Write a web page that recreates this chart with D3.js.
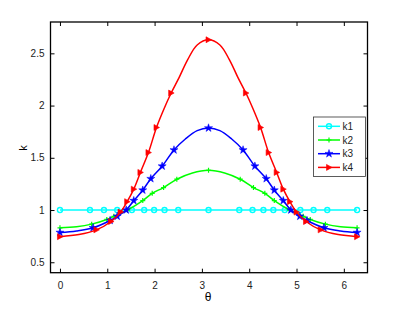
<!DOCTYPE html>
<html><head><meta charset="utf-8">
<script src="https://cdn.jsdelivr.net/npm/d3@7"></script>
<style>body{margin:0;background:#fff}svg{display:block}text{font-family:"Liberation Sans",Arial,sans-serif}</style>
</head><body><svg id="c" width="399" height="310"></svg>
<script>
// ---- data ----
const xTicks = [0,1,2,3,4,5,6];
const yTicks = [0.5,1,1.5,2,2.5];
const seriesNames = ["k1","k2","k3","k4"];

const k1Theta = [0,0.634,0.93,1.21,1.52,1.78,1.99,2.21,2.5,3.14,3.79,4.07,4.30,4.51,4.75,5.08,5.36,5.65,6.28];
const k1Vals  = [1,1,1,1,1,1,1,1,1,1,1,1,1,1,1,1,1,1,1];
const k1Mark  = [1,1,1,1,1,1,1,1,1,1,1,1,1,1,1,1,1,1,1];

const k2Theta = [0,0.35,0.67,0.99,1.14,1.43,1.75,1.95,2.19,2.47,2.80,3.14,3.48,3.81,4.09,4.33,4.53,4.85,5.14,5.29,5.61,5.93,6.28];
const k2Vals  = [0.83,0.84,0.865,0.91,0.94,1.00,1.09,1.16,1.215,1.295,1.355,1.38,1.355,1.295,1.215,1.16,1.09,1.00,0.94,0.91,0.865,0.84,0.83];
const k2Mark  = [1,0,1,1,1,1,1,1,1,1,0,1,0,1,1,1,1,1,1,1,1,0,1];

const k3Theta = [0,0.35,0.70,1.06,1.21,1.40,1.56,1.75,1.92,2.16,2.41,2.65,2.90,3.14,3.38,3.63,3.87,4.12,4.36,4.53,4.72,4.88,5.07,5.22,5.58,5.93,6.28];
const k3Vals  = [0.785,0.80,0.83,0.90,0.94,1.00,1.09,1.19,1.30,1.42,1.575,1.68,1.76,1.785,1.76,1.68,1.575,1.42,1.30,1.19,1.09,1.00,0.94,0.90,0.83,0.80,0.785];
const k3Mark  = [1,0,1,1,1,1,1,1,1,1,1,0,0,1,0,0,1,1,1,1,1,1,1,1,1,0,1];

const k4Theta = [0,0.40,0.77,1.08,1.28,1.42,1.56,1.70,1.87,2.04,2.20,2.35,2.52,2.70,2.90,3.14,3.38,3.58,3.76,3.93,4.08,4.24,4.41,4.58,4.72,4.86,5.00,5.20,5.51,5.88,6.28];
const k4Vals  = [0.745,0.765,0.81,0.89,0.98,1.08,1.20,1.36,1.55,1.79,1.97,2.12,2.27,2.44,2.58,2.63,2.58,2.44,2.27,2.12,1.97,1.79,1.55,1.36,1.20,1.08,0.98,0.89,0.81,0.765,0.745];
const k4Mark  = [1,0,1,1,1,1,1,1,1,1,0,1,0,0,0,1,0,0,0,1,0,1,1,1,1,1,1,1,1,0,1];

const colors = ["#00ffff","#00ff00","#0000ff","#ff0000"];

// ---- drawing ----
const svg = d3.select("#c");
const x = d3.scaleLinear().domain([-0.2,6.5]).range([50.5,367.5]);
const y = d3.scaleLinear().domain([0.4,2.8]).range([272.7,22]);

const series = [
  {name:"k1", t:k1Theta, v:k1Vals, m:k1Mark, c:colors[0], sym:"circle"},
  {name:"k2", t:k2Theta, v:k2Vals, m:k2Mark, c:colors[1], sym:"plus"},
  {name:"k3", t:k3Theta, v:k3Vals, m:k3Mark, c:colors[2], sym:"star"},
  {name:"k4", t:k4Theta, v:k4Vals, m:k4Mark, c:colors[3], sym:"tri"}
];

function drawMarker(g, sym, c){
  if(sym==="circle"){
    g.append("circle").attr("r",2.5).attr("fill","none").attr("stroke",c).attr("stroke-width",1.4);
  } else if(sym==="plus"){
    g.append("path").attr("d","M-2.5,0H2.5M0,-2.5V2.5").attr("stroke",c).attr("stroke-width",1.2);
  } else if(sym==="star"){
    g.append("path").attr("d",d3.symbol(d3.symbolStar,20)()).attr("fill",c).attr("stroke",c).attr("stroke-width",0.5);
  } else {
    g.append("path").attr("d","M3,0L-2.5,-3L-2.5,3Z").attr("fill",c).attr("stroke",c).attr("stroke-width",0.6);
  }
}

const line = d3.line().curve(d3.curveCatmullRom.alpha(0.5));
series.forEach(s=>{
  const pts = s.t.map((t,i)=>[x(t),y(s.v[i])]);
  svg.append("path").attr("d",line(pts)).attr("fill","none").attr("stroke",s.c).attr("stroke-width",1.5);
  pts.forEach((p,i)=>{
    if(s.m[i]){
      const g = svg.append("g").attr("transform",`translate(${p[0]},${p[1]})`);
      drawMarker(g,s.sym,s.c);
    }
  });
});

// axes (ticks inward, box)
const X0=50.5,X1=367.5,Y0=22,Y1=272.7;
const axB = svg.append("g").attr("transform",`translate(0,${Y1})`)
  .call(d3.axisBottom(x).tickValues(xTicks).tickSize(-4).tickPadding(9).tickFormat(d3.format("d")));
const axT = svg.append("g").attr("transform",`translate(0,${Y0})`)
  .call(d3.axisTop(x).tickValues(xTicks).tickSize(-4).tickFormat(""));
const axL = svg.append("g").attr("transform",`translate(${X0},0)`)
  .call(d3.axisLeft(y).tickValues(yTicks).tickSize(-4).tickPadding(6).tickFormat(d=>String(d)));
const axR = svg.append("g").attr("transform",`translate(${X1},0)`)
  .call(d3.axisRight(y).tickValues(yTicks).tickSize(-4).tickFormat(""));
[axB,axT,axL,axR].forEach(a=>{
  a.select(".domain").remove();
  a.selectAll("line").attr("stroke","#000").attr("stroke-width",1);
  a.selectAll("text").attr("font-size",10).attr("fill","#222").attr("font-family","Liberation Sans, Arial, sans-serif");
});
svg.append("rect").attr("x",X0).attr("y",Y0).attr("width",X1-X0).attr("height",Y1-Y0)
  .attr("fill","none").attr("stroke","#000").attr("stroke-width",1.3);

// axis labels
svg.append("text").attr("x",208).attr("y",301).attr("text-anchor","middle")
  .attr("font-size",12).attr("font-family","Liberation Serif, serif").text("θ");
svg.append("text").attr("transform","translate(27,148) rotate(-90)").attr("text-anchor","middle")
  .attr("font-size",11).text("k");

// legend
const lg = svg.append("g");
lg.append("rect").attr("x",313.5).attr("y",117).attr("width",52).attr("height",59.5)
  .attr("fill","#fff").attr("stroke","#333").attr("stroke-width",0.8);
series.forEach((s,i)=>{
  const yy = 126.3 + i*13.7;
  lg.append("line").attr("x1",318).attr("x2",340).attr("y1",yy).attr("y2",yy).attr("stroke",s.c).attr("stroke-width",1.5);
  const g = lg.append("g").attr("transform",`translate(329,${yy})`);
  drawMarker(g,s.sym,s.c);
  lg.append("text").attr("x",342.5).attr("y",yy+3.6).attr("font-size",10).attr("fill","#222").text(seriesNames[i]);
});
</script></body></html>
